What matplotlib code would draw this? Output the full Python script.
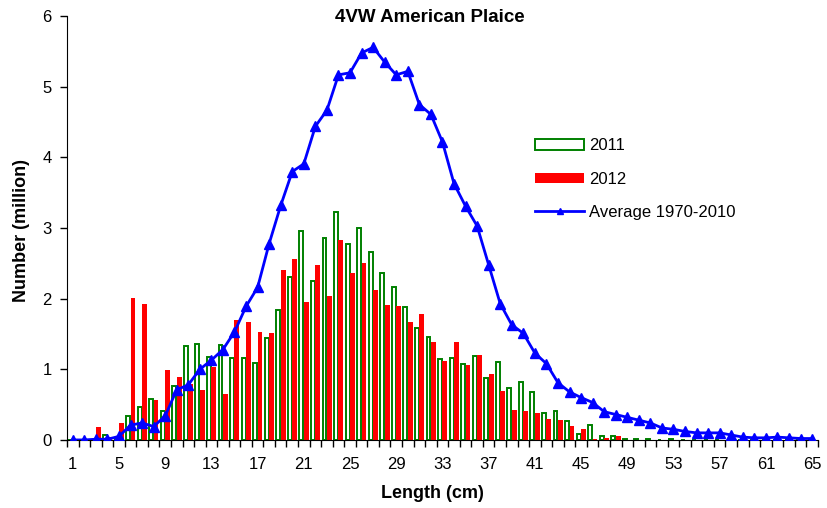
import numpy as np
import matplotlib.pyplot as plt

plt.rcParams['font.family'] = ['Liberation Sans', 'DejaVu Sans']

lengths = list(range(1, 66))

n2011 = [0, 0, 0, 0.07, 0.03, 0.34, 0.46, 0.58, 0.41, 0.76,
         1.33, 1.36, 1.18, 1.34, 1.16, 1.16, 1.09, 1.44, 1.84, 2.31,
         2.96, 2.25, 2.86, 3.23, 2.78, 3.00, 2.66, 2.37, 2.17, 1.88,
         1.59, 1.46, 1.15, 1.16, 1.08, 1.19, 0.88, 1.11, 0.74, 0.82,
         0.68, 0.38, 0.41, 0.27, 0.09, 0.21, 0.06, 0.06, 0.02, 0.02,
         0.02, 0, 0.02, 0, 0, 0, 0, 0, 0, 0,
         0, 0, 0, 0, 0]

n2012 = [0, 0, 0.19, 0.04, 0.24, 2.01, 1.92, 0.56, 0.99, 0.89,
         0.79, 0.70, 1.03, 0.65, 1.70, 1.67, 1.53, 1.51, 2.41, 2.56,
         1.96, 2.48, 2.04, 2.83, 2.37, 2.50, 2.13, 1.91, 1.90, 1.67,
         1.79, 1.39, 1.12, 1.38, 1.06, 1.20, 0.93, 0.69, 0.42, 0.41,
         0.38, 0.30, 0.28, 0.20, 0.15, 0.02, 0.03, 0.05, 0, 0,
         0, 0, 0, 0, 0, 0, 0, 0, 0, 0,
         0, 0, 0, 0, 0]

avg = [0, 0, 0.01, 0.01, 0.05, 0.21, 0.24, 0.19, 0.34, 0.71,
       0.78, 1.00, 1.13, 1.28, 1.53, 1.89, 2.16, 2.78, 3.32, 3.80,
       3.91, 4.44, 4.67, 5.17, 5.20, 5.48, 5.56, 5.35, 5.17, 5.22,
       4.75, 4.61, 4.22, 3.63, 3.31, 3.03, 2.48, 1.93, 1.63, 1.51,
       1.23, 1.08, 0.81, 0.68, 0.60, 0.53, 0.40, 0.36, 0.32, 0.28,
       0.24, 0.17, 0.15, 0.12, 0.10, 0.10, 0.10, 0.07, 0.04, 0.03,
       0.03, 0.04, 0.03, 0.02, 0.02]

x = np.array(lengths)

fig = plt.figure(figsize=(8.27, 5.08), dpi=100)
ax = fig.add_axes([0.081, 0.134, 0.908, 0.834])

w = 0.42
b1 = ax.bar(x - w / 2, n2011, width=w * 0.8, facecolor="white", edgecolor="#008000",
            linewidth=1.4, label="2011", zorder=2)
b2 = ax.bar(x + w / 2, n2012, width=w, color="#FF0000", linewidth=0,
            label="2012", zorder=2)
l1, = ax.plot(x, avg, color="#0000FF", linewidth=2, marker="^", markersize=7,
              label="Average 1970-2010", zorder=3)

ax.set_xlim(0.5, 65.5)
ax.set_ylim(0, 6)
ax.set_xticks(range(1, 66, 4))
ax.set_xticks(np.arange(0.5, 66, 1), minor=True)
ax.tick_params(axis="x", which="major", length=0, pad=12, labelsize=12)
ax.tick_params(axis="x", which="minor", length=5, direction="out", width=1)
ax.tick_params(axis="y", length=5, direction="out", width=1, labelsize=12, pad=6)
ax.set_yticks(range(0, 7))
for s in ["top", "right"]:
    ax.spines[s].set_visible(False)

fig.text(430 / 827, 1 - 18 / 508, "4VW American Plaice", ha="center", va="center",
         fontsize=13.5, fontweight="bold")
fig.text(432 / 827, 1 - 493 / 508, "Length (cm)", ha="center", va="center",
         fontsize=13, fontweight="bold")
fig.text(22 / 827, 1 - 230 / 508, "Number (million)", ha="center", va="center",
         fontsize=13, fontweight="bold", rotation=90)

fig.legend(handles=[b1, b2, l1], loc="upper left", bbox_to_anchor=(527 / 827, 1 - 130 / 508),
           frameon=False, fontsize=12, handlelength=2.9, handleheight=0.6,
           handletextpad=0.3, labelspacing=1.1, borderpad=0, markerscale=0.6)

fig.savefig("out.png", dpi=100)
